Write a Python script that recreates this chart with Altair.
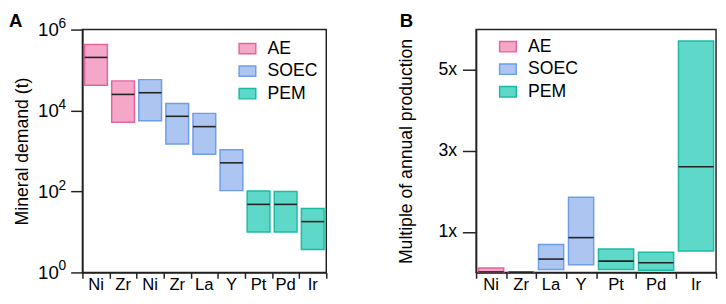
import altair as alt
import numpy as np
import pandas as pd

# ---------------- data ----------------
TECH = ["AE", "SOEC", "PEM"]
FILL = ["#f4a7c9", "#adc6f1", "#5ed8c8"]
STROKE = ["#e6639c", "#6f9de6", "#1dbba4"]

# Panel A: mineral demand (t), log scale
a_minerals = ["Ni", "Zr", "Ni", "Zr", "La", "Y", "Pt", "Pd", "Ir"]
a_tech = ["AE", "AE", "SOEC", "SOEC", "SOEC", "SOEC", "PEM", "PEM", "PEM"]
a_low = [4.2e4, 5.1e3, 5.6e3, 1.48e3, 830, 105, 10, 10, 3.7]
a_mid = [2.05e5, 2.5e4, 2.75e4, 7.2e3, 4.0e3, 510, 48, 48, 18]
a_high = [4.3e5, 5.4e4, 5.8e4, 1.5e4, 8.5e3, 1080, 103, 100, 38]
a_tick_values = [1, 100, 1e4, 1e6]
a_tick_exponents = ["0", "2", "4", "6"]

# Panel B: multiple of annual production
b_minerals = ["Ni", "Zr", "La", "Y", "Pt", "Pd", "Ir"]
b_tech = ["AE", "AE", "SOEC", "SOEC", "PEM", "PEM", "PEM"]
b_low = [0.004, 0.002, 0.07, 0.19, 0.07, 0.055, 0.53]
b_mid = [0.012, 0.005, 0.33, 0.86, 0.28, 0.24, 2.61]
b_high = [0.11, 0.012, 0.69, 1.86, 0.58, 0.50, 5.72]
b_tick_values = [1, 3, 5]

# layout (relative category widths)
a_weights = [1] * 9
b_weights = [1, 1, 1, 1, 4 / 3, 4 / 3, 4 / 3]

FONT = "Liberation Sans"
INK = "#222222"
PAD = 0.08
H = 248


def frame(minerals, tech, low, mid, high, weights):
    edges = np.concatenate([[0.0], np.cumsum(weights)])
    df = pd.DataFrame({
        "mineral": minerals, "tech": tech, "low": low, "mid": mid, "high": high,
        "x0": edges[:-1] + PAD, "x1": edges[1:] - PAD,
        "xc": (edges[:-1] + edges[1:]) / 2,
    })
    return df, [float(e) for e in edges]


def panel(df, edges, y_scale, y_axis, legend_x, legend_y, letter, letter_x, width, extra=None):
    xs = alt.Scale(domain=[0, edges[-1]], nice=False, zero=False)
    x_axis = alt.Axis(values=edges, labels=False, title=None, grid=False,
                      tickSize=6, domain=True)
    leg = alt.Legend(orient="none", legendX=legend_x, legendY=legend_y, title=None,
                     symbolType="M-1,-0.62H1V0.62H-1Z", symbolSize=289,
                     symbolStrokeWidth=1.5, labelFontSize=18, labelFont=FONT,
                     labelOffset=11, rowPadding=4, padding=0, labelColor="black")
    base = alt.Chart(df)
    bars = base.mark_rect(strokeWidth=1.5).encode(
        x=alt.X("x0:Q", scale=xs, axis=x_axis),
        x2="x1:Q",
        y=alt.Y("low:Q", scale=y_scale, axis=y_axis),
        y2="high:Q",
        fill=alt.Fill("tech:N", scale=alt.Scale(domain=TECH, range=FILL), legend=leg),
        stroke=alt.Stroke("tech:N", scale=alt.Scale(domain=TECH, range=STROKE), legend=leg),
    )
    med = base.mark_rule(color=INK, strokeWidth=1.6).encode(
        x=alt.X("x0:Q", scale=xs, axis=x_axis),
        x2="x1:Q",
        y=alt.Y("mid:Q", scale=y_scale, axis=y_axis),
    )
    labels = base.mark_text(font=FONT, fontSize=17, baseline="top", color="black").encode(
        x=alt.X("xc:Q", scale=xs, axis=x_axis),
        y=alt.value(H + 5),
        text="mineral:N",
    )
    letter_mark = alt.Chart(pd.DataFrame({"t": [letter]})).mark_text(
        font=FONT, fontSize=19, fontWeight="bold", align="left", baseline="top",
        color="black",
    ).encode(x=alt.value(letter_x), y=alt.value(-18), text="t:N")
    layers = [bars, med, labels, letter_mark] + (extra or [])
    return alt.layer(*layers).properties(width=width, height=H)


# Panel A
dfa, edges_a = frame(a_minerals, a_tech, a_low, a_mid, a_high, a_weights)
ys_a = alt.Scale(type="log", domain=[1, 1e6], nice=False)
yaxis_a = alt.Axis(values=a_tick_values, labelExpr="'10'", labelFontSize=19,
                   tickSize=12, labelPadding=12.7, labelOverlap=False,
                   title="Mineral demand (t)", titleFontSize=18, titlePadding=6,
                   grid=False)
exp_df = pd.DataFrame({"v": a_tick_values, "e": a_tick_exponents})
exps = alt.Chart(exp_df).mark_text(align="left", baseline="alphabetic", fontSize=14,
                                   font=FONT, dy=-2, color="black").encode(
    x=alt.value(-24.5),
    y=alt.Y("v:Q", scale=ys_a, axis=yaxis_a),
    text="e:N",
)
chart_a = panel(dfa, edges_a, ys_a, yaxis_a, 159, 10, "A", -75, 249, extra=[exps])

# Panel B
dfb, edges_b = frame(b_minerals, b_tech, b_low, b_mid, b_high, b_weights)
ys_b = alt.Scale(domain=[0, 6], nice=False, zero=True)
yaxis_b = alt.Axis(values=b_tick_values, labelExpr="datum.value + 'x'", labelFontSize=18,
                   tickSize=14, labelPadding=6, labelOverlap=False,
                   title="Multiple of annual production", titleFontSize=18,
                   titlePadding=23, grid=False)
chart_b = panel(dfb, edges_b, ys_b, yaxis_b, 23, 8, "B", -78, 245)

chart = alt.hconcat(chart_a, chart_b, spacing=70).resolve_scale(
    fill="independent", stroke="independent"
).resolve_legend(
    fill="independent", stroke="independent"
).properties(
    padding={"left": 0, "top": 0, "right": 0, "bottom": -3}
).configure_view(
    stroke=INK, strokeWidth=1.5
).configure_axis(
    domainColor=INK, domainWidth=1.5, tickColor=INK, tickWidth=1.5,
    labelFont=FONT, titleFont=FONT, labelColor="black", titleColor="black",
    titleFontWeight="normal", grid=False
)

chart.save("out.html", embed_options={"renderer": "svg", "actions": False})
